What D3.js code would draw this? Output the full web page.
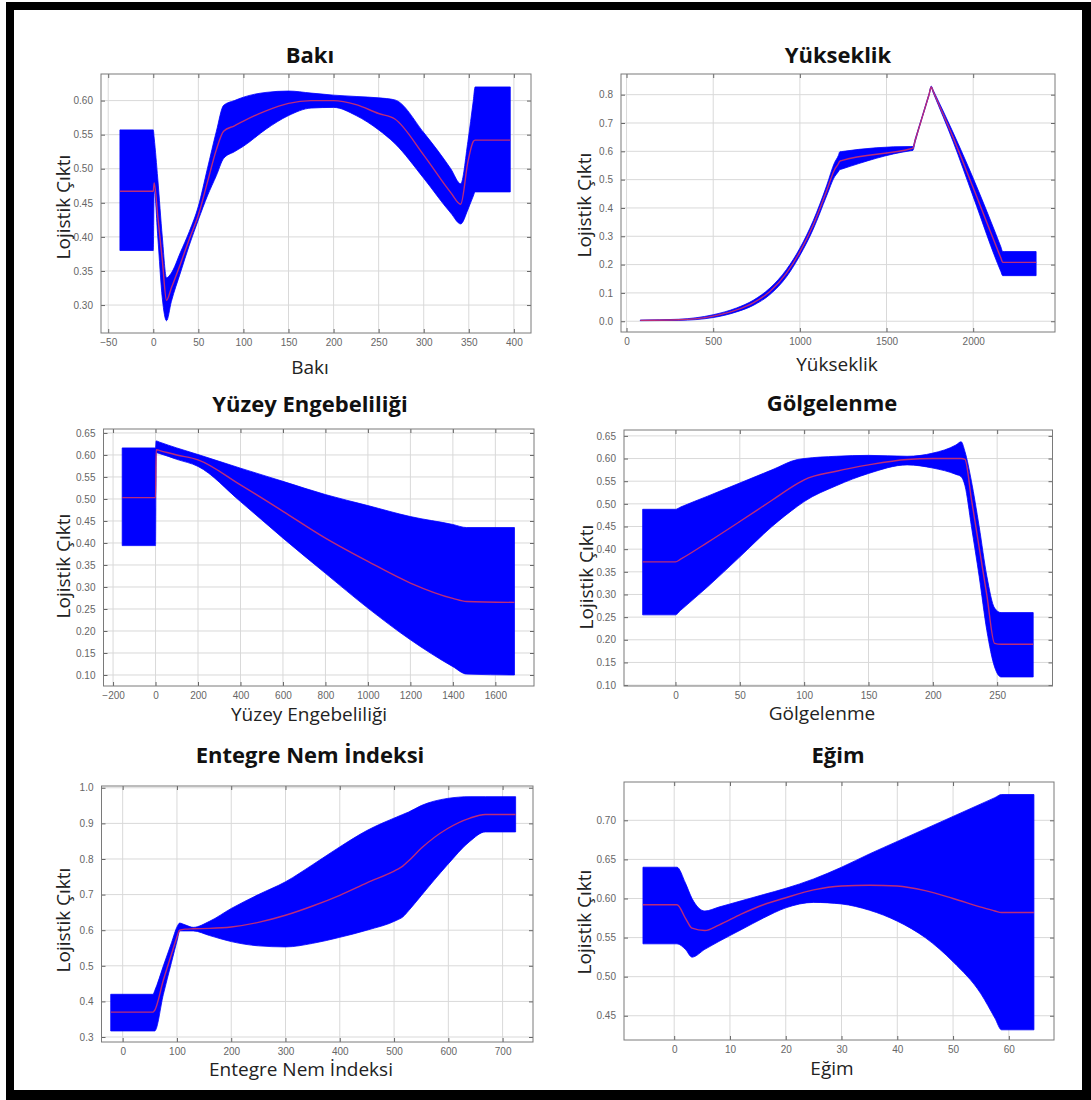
<!DOCTYPE html>
<html><head><meta charset="utf-8">
<script src="https://cdn.jsdelivr.net/npm/d3@7"></script>
<style>body{margin:0;background:#fff}svg{display:block}</style>
</head><body>
<script>
// ---------- DATA ----------
const bakiX     = [-37, 0, 1, 5, 10, 14.7, 20, 30, 40, 50, 60, 70, 78, 90, 100, 125, 150, 175, 200, 225, 250, 268, 300, 330, 341, 349, 355, 357, 396];
const bakiUpper = [0.557,0.557,0.545,0.485,0.40,0.34,0.347,0.377,0.408,0.445,0.50,0.555,0.593,0.600,0.605,0.612,0.614,0.611,0.608,0.606,0.604,0.601,0.553,0.50,0.478,0.54,0.60,0.62,0.62];
const bakiMean  = [0.467,0.467,0.479,0.43,0.366,0.307,0.325,0.36,0.397,0.432,0.48,0.528,0.555,0.563,0.570,0.585,0.596,0.600,0.600,0.594,0.581,0.573,0.520,0.465,0.448,0.51,0.540,0.542,0.542];
const bakiLower = [0.380,0.380,0.47,0.40,0.31,0.277,0.305,0.347,0.388,0.425,0.46,0.49,0.515,0.525,0.533,0.558,0.578,0.589,0.590,0.578,0.557,0.537,0.486,0.435,0.419,0.44,0.46,0.466,0.466];
const bakiXTicks = [-50,0,50,100,150,200,250,300,350,400];
const bakiYTicks = [0.30,0.35,0.40,0.45,0.50,0.55,0.60];

const yukX     = [79, 300, 500, 635, 731, 827, 923, 1000, 1077, 1154, 1200, 1222, 1230, 1240, 1640, 1652, 1665, 1745, 1758, 1770, 1883, 2000, 2160, 2170, 2180, 2363];
const yukUpper = [0.004,0.007,0.023,0.047,0.074,0.117,0.183,0.258,0.355,0.478,0.560,0.585,0.598,0.599,0.617,0.617,0.643,0.803,0.830,0.815,0.668,0.505,0.262,0.246,0.246,0.246];
const yukMean  = [0.003,0.005,0.018,0.040,0.065,0.105,0.170,0.245,0.340,0.460,0.535,0.556,0.565,0.567,0.609,0.611,0.638,0.800,0.827,0.810,0.651,0.471,0.223,0.208,0.208,0.208];
const yukLower = [0.002,0.003,0.013,0.033,0.056,0.094,0.157,0.232,0.325,0.442,0.510,0.528,0.535,0.537,0.602,0.603,0.633,0.797,0.824,0.806,0.636,0.440,0.175,0.161,0.161,0.161];
const yukXTicks = [0,500,1000,1500,2000];
const yukYTicks = [0,0.1,0.2,0.3,0.4,0.5,0.6,0.7,0.8];

const yuzX     = [-157, 0, 3, 20, 100, 200, 400, 600, 800, 1000, 1200, 1400, 1465, 1690];
const yuzUpper = [0.616,0.616,0.632,0.629,0.616,0.601,0.570,0.540,0.510,0.485,0.460,0.442,0.435,0.435];
const yuzMean  = [0.503,0.503,0.612,0.610,0.600,0.589,0.532,0.472,0.411,0.358,0.309,0.274,0.267,0.265];
const yuzLower = [0.394,0.394,0.605,0.603,0.590,0.574,0.494,0.411,0.331,0.252,0.180,0.119,0.102,0.100];
const yuzXTicks = [-200,0,200,400,600,800,1000,1200,1400,1600];
const yuzYTicks = [0.10,0.15,0.20,0.25,0.30,0.35,0.40,0.45,0.50,0.55,0.60,0.65];

const golX     = [-25.5, 0, 4, 25, 50, 75, 95, 100, 125, 150, 180, 200, 218, 222, 225, 230, 236, 242, 248, 253, 278];
const golUpper = [0.488,0.488,0.493,0.517,0.546,0.575,0.598,0.600,0.605,0.607,0.605,0.612,0.630,0.637,0.615,0.55,0.45,0.34,0.27,0.26,0.26];
const golMean  = [0.372,0.372,0.378,0.415,0.461,0.508,0.545,0.553,0.572,0.586,0.598,0.600,0.600,0.600,0.598,0.510,0.404,0.298,0.192,0.19,0.19];
const golLower = [0.255,0.255,0.265,0.317,0.383,0.450,0.495,0.505,0.540,0.567,0.586,0.579,0.565,0.560,0.540,0.45,0.34,0.22,0.14,0.118,0.118];
const golXTicks = [0,50,100,150,200,250];
const golYTicks = [0.10,0.15,0.20,0.25,0.30,0.35,0.40,0.45,0.50,0.55,0.60,0.65];

const entX     = [-22, 56, 59, 75, 90, 101, 105, 115, 130, 160, 200, 250, 300, 350, 400, 450, 505, 516, 527, 550, 598, 640, 668, 724];
const entUpper = [0.42,0.42,0.43,0.50,0.565,0.612,0.620,0.615,0.608,0.625,0.661,0.700,0.736,0.784,0.834,0.880,0.918,0.925,0.932,0.950,0.970,0.975,0.975,0.975];
const entMean  = [0.37,0.37,0.375,0.46,0.533,0.585,0.600,0.603,0.604,0.605,0.609,0.622,0.642,0.668,0.698,0.733,0.770,0.780,0.795,0.830,0.885,0.915,0.925,0.925];
const entLower = [0.317,0.317,0.317,0.42,0.51,0.575,0.598,0.598,0.598,0.585,0.568,0.556,0.553,0.563,0.580,0.600,0.628,0.637,0.655,0.697,0.783,0.850,0.876,0.876];
const entXTicks = [0,100,200,300,400,500,600,700];
const entYTicks = [0.3,0.4,0.5,0.6,0.7,0.8,0.9,1.0];

const egimX     = [-5.6, 0.5, 2, 3.2, 5.5, 8, 12, 16, 20, 25, 30, 35, 40, 45, 50, 55, 57.5, 58.7, 64.5];
const egimUpper = [0.640,0.640,0.620,0.600,0.584,0.589,0.597,0.605,0.613,0.625,0.640,0.657,0.673,0.689,0.705,0.721,0.729,0.733,0.733];
const egimMean  = [0.592,0.592,0.575,0.562,0.559,0.566,0.580,0.592,0.601,0.611,0.616,0.617,0.616,0.610,0.600,0.589,0.584,0.582,0.582];
const egimLower = [0.542,0.542,0.535,0.525,0.535,0.545,0.560,0.575,0.588,0.595,0.593,0.585,0.571,0.550,0.519,0.478,0.447,0.432,0.432];
const egimXTicks = [0,10,20,30,40,50,60];
const egimYTicks = [0.45,0.50,0.55,0.60,0.65,0.70];

const titles = ["Bakı","Yükseklik","Yüzey Engebeliliği","Gölgelenme","Entegre Nem İndeksi","Eğim"];
const yLabel = "Lojistik Çıktı";

// ---------- LAYOUT ----------
const W = 1091, H = 1100;
const svg = d3.select("body").append("svg").attr("width", W).attr("height", H);
svg.append("rect").attr("x",6).attr("y",2).attr("width",1085).attr("height",1098).attr("fill","#000");
svg.append("rect").attr("x",14).attr("y",10).attr("width",1068).attr("height",1080).attr("fill","#fff");

const panels = [
  {x:bakiX,u:bakiUpper,m:bakiMean,l:bakiLower,xt:bakiXTicks,yt:bakiYTicks,fmt:".2f",
   box:[101,74,531,333],xd:[-58,419],yd:[0.259,0.639],title:titles[0],tc:[310,63],xl:[310,374],yl:[64,207]},
  {x:yukX,u:yukUpper,m:yukMean,l:yukLower,xt:yukXTicks,yt:yukYTicks,fmt:".1f",
   box:[621,74,1055,332],xd:[-32,2472],yd:[-0.038,0.873],title:titles[1],tc:[838,63],xl:[837,371],yl:[585,205]},
  {x:yuzX,u:yuzUpper,m:yuzMean,l:yuzLower,xt:yuzXTicks,yt:yuzYTicks,fmt:".2f",
   box:[103.5,429,534,686],xd:[-245,1782],yd:[0.075,0.659],title:titles[2],tc:[310,412],xl:[309,721],yl:[64,566]},
  {x:golX,u:golUpper,m:golMean,l:golLower,xt:golXTicks,yt:golYTicks,fmt:".2f",
   box:[624,430,1052.5,686],xd:[-40,293],yd:[0.098,0.663],title:titles[3],tc:[832,411],xl:[822,720],yl:[587,577]},
  {x:entX,u:entUpper,m:entMean,l:entLower,xt:entXTicks,yt:entYTicks,fmt:".1f",
   box:[101.5,786,533,1042],xd:[-39,756],yd:[0.286,1.005],title:titles[4],tc:[310,763],xl:[301,1076],yl:[64,920]},
  {x:egimX,u:egimUpper,m:egimMean,l:egimLower,xt:egimXTicks,yt:egimYTicks,fmt:".2f",
   box:[624,782,1054,1040],xd:[-9,68.1],yd:[0.419,0.749],title:titles[5],tc:[838,763],xl:[832,1075],yl:[585,922]}
];

panels.forEach((p,i) => {
  const [x0,y0,x1,y1] = p.box;
  const xs = d3.scaleLinear().domain(p.xd).range([x0,x1]);
  const ys = d3.scaleLinear().domain(p.yd).range([y1,y0]);
  const g = svg.append("g");

  g.append("rect").attr("x",x0).attr("y",y0).attr("width",x1-x0).attr("height",y1-y0).attr("fill","#fff");

  // grid
  g.selectAll(".gx").data(p.xt).join("line")
    .attr("x1",d=>xs(d)).attr("x2",d=>xs(d)).attr("y1",y0).attr("y2",y1)
    .attr("stroke","#d9d9d9").attr("stroke-width",1);
  g.selectAll(".gy").data(p.yt).join("line")
    .attr("y1",d=>ys(d)).attr("y2",d=>ys(d)).attr("x1",x0).attr("x2",x1)
    .attr("stroke","#d9d9d9").attr("stroke-width",1);

  const clipId = "clip"+i;
  svg.append("clipPath").attr("id",clipId).append("rect")
    .attr("x",x0).attr("y",y0).attr("width",x1-x0).attr("height",y1-y0);

  const data = d3.zip(p.x,p.u,p.m,p.l).map(([x,u,m,l])=>({x,u,m,l}));
  const area = d3.area().x(d=>xs(d.x)).y0(d=>ys(d.l)).y1(d=>ys(d.u)).curve(d3.curveMonotoneX);
  const line = d3.line().x(d=>xs(d.x)).y(d=>ys(d.m)).curve(d3.curveMonotoneX);
  const pg = g.append("g").attr("clip-path",`url(#${clipId})`);
  pg.append("path").datum(data).attr("d",area).attr("fill","#0000ff").attr("stroke","#0000ff").attr("stroke-width",0.8).attr("stroke-linejoin","round");
  pg.append("path").datum(data).attr("d",line).attr("fill","none").attr("stroke","#bc2c78").attr("stroke-width",1.4);

  // axes: inward ticks on all four sides
  const tickStyle = sel => { sel.select(".domain").remove();
    sel.selectAll(".tick line").attr("stroke","#666");
    sel.selectAll(".tick text").attr("fill","#666").attr("font-family","Liberation Sans, Arial, sans-serif").attr("font-size",10); };
  g.append("g").attr("transform",`translate(0,${y1})`)
    .call(d3.axisBottom(xs).tickValues(p.xt).tickSizeInner(-4).tickSizeOuter(0).tickPadding(6).tickFormat(d3.format("d")))
    .call(tickStyle);
  g.append("g").attr("transform",`translate(0,${y0})`)
    .call(d3.axisTop(xs).tickValues(p.xt).tickSizeInner(-4).tickSizeOuter(0).tickFormat(""))
    .call(tickStyle);
  g.append("g").attr("transform",`translate(${x0},0)`)
    .call(d3.axisLeft(ys).tickValues(p.yt).tickSizeInner(-4).tickSizeOuter(0).tickPadding(8).tickFormat(d3.format(p.fmt)))
    .call(tickStyle);
  g.append("g").attr("transform",`translate(${x1},0)`)
    .call(d3.axisRight(ys).tickValues(p.yt).tickSizeInner(-4).tickSizeOuter(0).tickFormat(""))
    .call(tickStyle);

  g.append("rect").attr("x",x0).attr("y",y0).attr("width",x1-x0).attr("height",y1-y0)
    .attr("fill","none").attr("stroke","#7a7a7a").attr("stroke-width",1);

  // texts
  g.append("text").attr("x",p.tc[0]).attr("y",p.tc[1]).attr("text-anchor","middle")
    .attr("font-family","Open Sans, sans-serif").attr("font-weight","bold").attr("font-size",22)
    .attr("fill","#111").text(p.title);
  g.append("text").attr("x",p.xl[0]).attr("y",p.xl[1]).attr("text-anchor","middle")
    .attr("font-family","Open Sans, sans-serif").attr("font-size",19).attr("fill","#222").text(p.title);
  g.append("text").attr("transform",`translate(${p.yl[0]+6},${p.yl[1]}) rotate(-90)`).attr("text-anchor","middle")
    .attr("font-family","Open Sans, sans-serif").attr("font-size",19).attr("fill","#222").text(yLabel);
});
</script>
</body></html>
